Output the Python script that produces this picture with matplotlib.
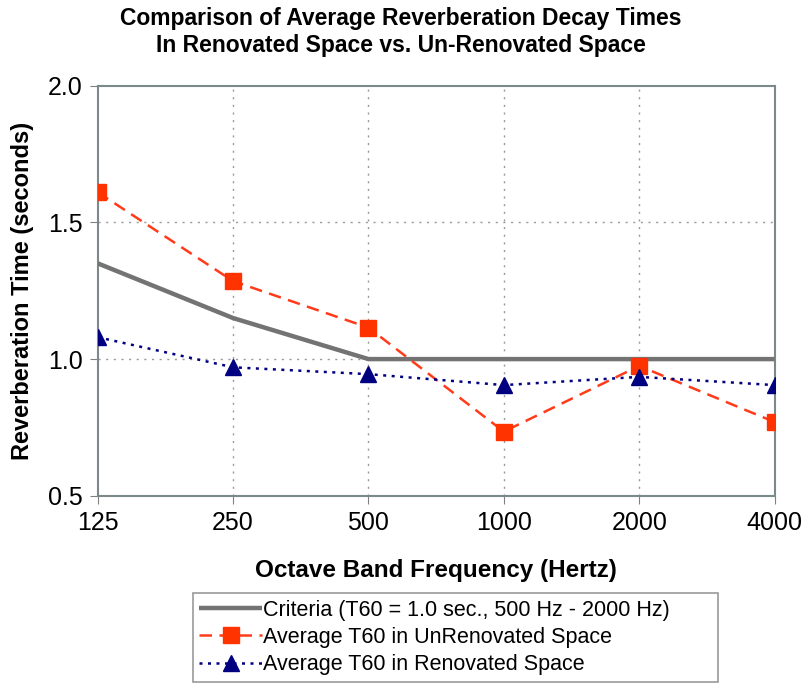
import matplotlib
matplotlib.use("Agg")
import matplotlib.pyplot as plt

plt.rcParams['font.family'] = ['Liberation Sans', 'DejaVu Sans']

freqs = ["125", "250", "500", "1000", "2000", "4000"]
criteria = [1.35, 1.15, 1.0, 1.0, 1.0, 1.0]
unrenovated = [1.61, 1.285, 1.115, 0.735, 0.975, 0.77]
renovated = [1.08, 0.97, 0.945, 0.905, 0.935, 0.905]

fig = plt.figure(figsize=(8.01, 6.84), dpi=100)
ax = fig.add_axes([0.122, 0.275, 0.845, 0.60])
x = list(range(len(freqs)))

ax.plot(x, criteria, color='#737373', lw=3.2, solid_capstyle='butt',
        label='Criteria (T60 = 1.0 sec., 500 Hz - 2000 Hz)', zorder=3)
ax.plot(x, unrenovated, color='#ff3b1a', lw=1.8, ls=(0, (5, 3)), marker='s', ms=11,
        mfc='#ff3300', mec='#ff3300', label='Average T60 in UnRenovated Space', zorder=4)
ax.plot(x, renovated, color='#000080', lw=1.8, ls=(0, (1.2, 2.2)), marker='^', ms=11,
        mfc='#000080', mec='#000080', label='Average T60 in Renovated Space', zorder=5)

ax.set_xlim(0, len(freqs) - 1)
ax.set_ylim(0.5, 2.0)
ax.set_xticks(x)
ax.set_xticklabels(freqs)
ax.set_yticks([0.5, 1.0, 1.5, 2.0])
ax.set_yticklabels(['0.5', '1.0', '1.5', '2.0'])
ax.tick_params(labelsize=18, length=6, color='#808080', pad=5, direction='out')

for xi in x[1:-1]:
    ax.axvline(xi, color='#999999', lw=1, ls=(0, (1.5, 4)), zorder=1)
for yv in [1.0, 1.5]:
    ax.axhline(yv, color='#999999', lw=1, ls=(0, (1.5, 4)), zorder=1)

for s in ax.spines.values():
    s.set_color('#7a8a8a')
    s.set_linewidth(1.5)

ax.set_xlabel('Octave Band Frequency (Hertz)', fontsize=17.5, fontweight='bold', labelpad=17)
ax.set_ylabel('Reverberation Time (seconds)', fontsize=17, fontweight='bold', labelpad=10)
fig.suptitle('Comparison of Average Reverberation Decay Times\nIn Renovated Space vs. Un-Renovated Space',
             fontsize=16.5, fontweight='bold', y=0.99, linespacing=1.25)

leg = fig.legend(loc='lower left', bbox_to_anchor=(0.241, 0.003, 0.655, 0.126), mode='expand',
                 fontsize=15.5, frameon=True, fancybox=False, handlelength=2.9,
                 handletextpad=0.05, borderpad=0.3, labelspacing=0.3, borderaxespad=0.0)
leg.get_frame().set_edgecolor('#808080')
leg.get_frame().set_linewidth(1.2)
for h in leg.legend_handles:
    h.set_markersize(11)

fig.savefig('out.png', dpi=100)
